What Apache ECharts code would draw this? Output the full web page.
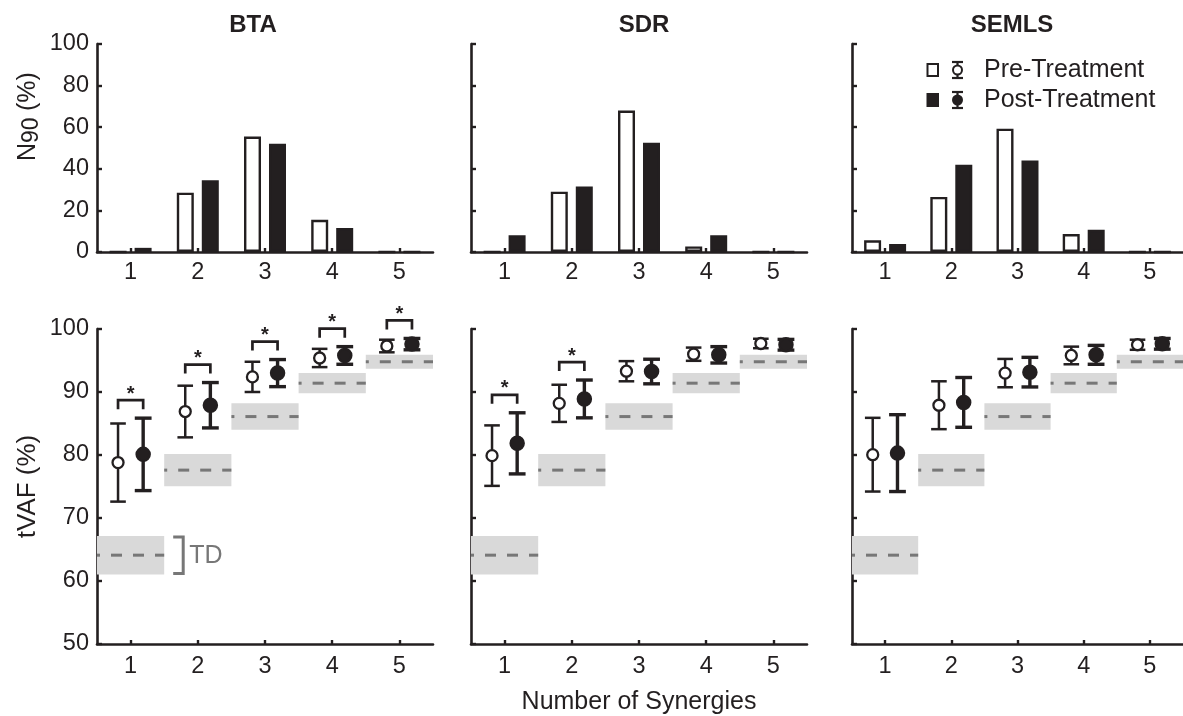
<!DOCTYPE html>
<html>
<head>
<meta charset="utf-8">
<script src="https://cdn.jsdelivr.net/npm/echarts@6/dist/echarts.min.js"></script>
<style>
  html, body { margin: 0; padding: 0; background: #fff; }
  #chart { width: 1183px; height: 716px; }
</style>
</head>
<body>
<div id="chart"></div>
<script>
// Number of synergies on the x axes
const categories = ['1', '2', '3', '4', '5'];
const panelNames = ['BTA', 'SDR', 'SEMLS'];

// N90: share of limbs (%) needing each number of synergies to reach 90% tVAF
const btaN90Pre = [0, 28.5, 55.5, 15.5, 0];
const btaN90Post = [2, 34.5, 52, 11.5, 0];
const sdrN90Pre = [0, 29, 68, 2.7, 0];
const sdrN90Post = [8, 31.5, 52.5, 8, 0];
const semlsN90Pre = [5.6, 26.5, 59.3, 8.6, 0];
const semlsN90Post = [3.8, 42, 44, 10.7, 0];

// tVAF (%) mean and SD for each number of synergies
const btaPreMean = [78.8, 86.9, 92.4, 95.4, 97.3];
const btaPreSd = [6.2, 4.1, 2.4, 1.45, 1.0];
const btaPostMean = [80.1, 87.9, 93.0, 95.8, 97.6];
const btaPostSd = [5.75, 3.6, 2.15, 1.4, 0.9];
const sdrPreMean = [79.9, 88.2, 93.3, 96.0, 97.7];
const sdrPreSd = [4.8, 2.95, 1.6, 1.05, 0.75];
const sdrPostMean = [81.85, 88.9, 93.25, 95.9, 97.5];
const sdrPostSd = [4.85, 3.0, 1.95, 1.3, 0.85];
const semlsPreMean = [80.05, 87.9, 93.0, 95.8, 97.5];
const semlsPreSd = [5.85, 3.8, 2.25, 1.4, 0.8];
const semlsPostMean = [80.3, 88.35, 93.15, 95.9, 97.65];
const semlsPostSd = [6.1, 3.95, 2.35, 1.5, 0.85];

// Typically developing reference band (mean ± SD)
const tdMean = [64.1, 77.6, 86.1, 91.4, 94.8];
const tdSd = [3.05, 2.55, 2.1, 1.6, 1.1];

// Significant pre/post differences (1 = marked with *)
const btaSig = [1, 1, 1, 1, 1];
const sdrSig = [1, 1, 0, 0, 0];
const semlsSig = [0, 0, 0, 0, 0];

const n90PreList = [btaN90Pre, sdrN90Pre, semlsN90Pre];
const n90PostList = [btaN90Post, sdrN90Post, semlsN90Post];
const preMeanList = [btaPreMean, sdrPreMean, semlsPreMean];
const preSdList = [btaPreSd, sdrPreSd, semlsPreSd];
const postMeanList = [btaPostMean, sdrPostMean, semlsPostMean];
const postSdList = [btaPostSd, sdrPostSd, semlsPostSd];
const sigList = [btaSig, sdrSig, semlsSig];

const FONT = "'Liberation Sans', Arial, Helvetica, sans-serif";
const INK = '#231f20';
const GREY = '#777777';
const BAND = '#d9d9d9';
const PANEL_LEFT = [97, 471, 852];
const PANEL_W = 336;
const TITLE_X = [253, 644, 1012];
const PAIR_OFFSET = 0.187; // pre/post horizontal offset, fraction of category width

const chart = echarts.init(document.getElementById('chart'), null, { renderer: 'canvas' });

const grids = [];
const xAxes = [];
const yAxes = [];
const series = [];

function xAxisDef(gridIndex, labelMargin, extra) {
  return Object.assign({
    type: 'category',
    gridIndex: gridIndex,
    data: categories,
    boundaryGap: true,
    axisLine: { show: true, lineStyle: { color: INK, width: 2.6 } },
    axisTick: { show: true, inside: true, alignWithLabel: true, length: 4, lineStyle: { color: INK, width: 2.4 } },
    axisLabel: { color: INK, fontSize: 23.5, fontFamily: FONT, margin: labelMargin },
    splitLine: { show: false }
  }, extra || {});
}

function yAxisDef(gridIndex, min, max, interval, showLabels, extra) {
  return Object.assign({
    type: 'value',
    gridIndex: gridIndex,
    min: min, max: max, interval: interval,
    axisLine: { show: true, lineStyle: { color: INK, width: 2.6 } },
    axisTick: { show: true, inside: true, length: 5, lineStyle: { color: INK, width: 2.4 } },
    axisLabel: { show: showLabels, color: INK, fontSize: 23.5, fontFamily: FONT, margin: 8 },
    splitLine: { show: false }
  }, extra || {});
}

// Shaded TD band with dashed mean line
function bandRenderer(withTag) {
  return function (params, api) {
    const k = api.value(0);
    const m = api.value(1);
    const sd = api.value(2);
    const c = api.coord([k, m]);
    const bw = api.size([1, 0])[0];
    const x0 = c[0] - bw / 2;
    const yTop = api.coord([k, m + sd])[1];
    const yBot = api.coord([k, m - sd])[1];
    const children = [
      { type: 'rect', shape: { x: x0, y: yTop, width: bw, height: yBot - yTop }, style: { fill: BAND } },
      { type: 'line', shape: { x1: x0, y1: c[1], x2: x0 + bw, y2: c[1] },
        style: { stroke: GREY, lineWidth: 3, lineDash: [11, 11], lineDashOffset: 8 } }
    ];
    if (withTag && params.dataIndex === 0) {
      const bx = x0 + bw;
      children.push({
        type: 'polyline',
        shape: { points: [[bx + 9, yTop + 1], [bx + 19, yTop + 1], [bx + 19, yBot - 1], [bx + 9, yBot - 1]] },
        style: { stroke: GREY, lineWidth: 3, fill: null }
      });
      children.push({
        type: 'text',
        style: { text: 'TD', x: bx + 25, y: c[1] + 1, align: 'left', verticalAlign: 'middle',
                 fill: GREY, fontSize: 25, fontFamily: FONT }
      });
    }
    return { type: 'group', children: children };
  };
}

// Mean ± SD error bar with circle marker
function errorBarRenderer(side, filled) {
  return function (params, api) {
    const k = api.value(0);
    const m = api.value(1);
    const sd = api.value(2);
    const c = api.coord([k, m]);
    const bw = api.size([1, 0])[0];
    const x = c[0] + side * bw * PAIR_OFFSET;
    const yTop = api.coord([k, m + sd])[1];
    const yBot = api.coord([k, m - sd])[1];
    const lw = filled ? 3.4 : 2.5;
    const half = filled ? 8.4 : 7.8;
    const st = { stroke: INK, lineWidth: lw };
    return {
      type: 'group',
      children: [
        { type: 'line', shape: { x1: x, y1: yTop, x2: x, y2: yBot }, style: st },
        { type: 'line', shape: { x1: x - half, y1: yTop, x2: x + half, y2: yTop }, style: st },
        { type: 'line', shape: { x1: x - half, y1: yBot, x2: x + half, y2: yBot }, style: st },
        { type: 'circle', shape: { cx: x, cy: c[1], r: filled ? 6.6 : 5.5 },
          style: { fill: filled ? INK : '#ffffff', stroke: INK, lineWidth: 2.3 } }
      ]
    };
  };
}

// Bracket with asterisk above a significant pre/post pair
function sigRenderer(params, api) {
  const k = api.value(0);
  const hiPre = api.value(1);
  const hiPost = api.value(2);
  const bw = api.size([1, 0])[0];
  const cx = api.coord([k, hiPre])[0];
  const yPre = api.coord([k, hiPre])[1];
  const yPost = api.coord([k, hiPost])[1];
  const yB = Math.min(yPre, yPost) - 18;
  const xa = cx - bw * PAIR_OFFSET;
  const xb = cx + bw * PAIR_OFFSET;
  return {
    type: 'group',
    children: [
      { type: 'polyline', shape: { points: [[xa, yB + 9], [xa, yB], [xb, yB], [xb, yB + 9]] },
        style: { stroke: INK, lineWidth: 2.7, fill: null } },
      { type: 'text', style: { text: '*', x: cx, y: yB - 6, align: 'center', verticalAlign: 'middle',
          fill: INK, fontSize: 20, fontFamily: FONT, fontWeight: 'bold' } }
    ]
  };
}

for (let i = 0; i < 3; i++) {
  // top row: N90 bars
  grids.push({ left: PANEL_LEFT[i], top: 44, width: PANEL_W, height: 208 });
  // bottom row: tVAF
  grids.push({ left: PANEL_LEFT[i], top: 329, width: PANEL_W, height: 315 });
}

for (let i = 0; i < 3; i++) {
  const gTop = i * 2;
  const gBot = i * 2 + 1;
  xAxes.push(xAxisDef(gTop, 9));
  xAxes.push(xAxisDef(gBot, 11, i === 1 ? {
    name: 'Number of Synergies', nameLocation: 'middle', nameGap: 46,
    nameTextStyle: { color: INK, fontSize: 25, fontFamily: FONT }
  } : {}));
  yAxes.push(yAxisDef(gTop, 0, 100, 20, i === 0));
  yAxes.push(yAxisDef(gBot, 50, 100, 10, i === 0, i === 0 ? {
    name: 'tVAF (%)', nameLocation: 'middle', nameGap: 56,
    nameTextStyle: { color: INK, fontSize: 26, fontFamily: FONT }
  } : {}));

  series.push({
    name: 'Pre-Treatment', type: 'bar', xAxisIndex: gTop, yAxisIndex: gTop,
    data: n90PreList[i], barWidth: 17, barGap: '47%',
    itemStyle: { color: '#ffffff', borderColor: INK, borderWidth: 2.4 },
    emphasis: { disabled: true }, z: 2
  });
  series.push({
    name: 'Post-Treatment', type: 'bar', xAxisIndex: gTop, yAxisIndex: gTop,
    data: n90PostList[i], barWidth: 17, barGap: '47%',
    itemStyle: { color: INK, borderColor: INK, borderWidth: 2.4 },
    emphasis: { disabled: true }, z: 2
  });

  series.push({
    name: 'TD', type: 'custom', xAxisIndex: gBot, yAxisIndex: gBot,
    renderItem: bandRenderer(i === 0),
    data: tdMean.map((m, k) => [k, m, tdSd[k]]),
    z: 1, silent: true
  });
  series.push({
    name: 'Pre-Treatment', type: 'custom', xAxisIndex: gBot, yAxisIndex: gBot,
    renderItem: errorBarRenderer(-1, false),
    data: preMeanList[i].map((m, k) => [k, m, preSdList[i][k]]),
    z: 3, silent: true
  });
  series.push({
    name: 'Post-Treatment', type: 'custom', xAxisIndex: gBot, yAxisIndex: gBot,
    renderItem: errorBarRenderer(1, true),
    data: postMeanList[i].map((m, k) => [k, m, postSdList[i][k]]),
    z: 3, silent: true
  });
  const sigData = [];
  sigList[i].forEach((flag, k) => {
    if (flag) {
      sigData.push([k, preMeanList[i][k] + preSdList[i][k], postMeanList[i][k] + postSdList[i][k]]);
    }
  });
  series.push({
    name: 'Significance', type: 'custom', xAxisIndex: gBot, yAxisIndex: gBot,
    renderItem: sigRenderer, data: sigData, encode: { x: 0, y: [1, 2] },
    z: 4, silent: true, clip: false
  });
}

// Panel titles, N90 axis label and legend
const graphics = [];
panelNames.forEach((name, i) => {
  graphics.push({
    type: 'text', x: TITLE_X[i], y: 25,
    style: { text: name, align: 'center', verticalAlign: 'middle', fill: INK,
             fontSize: 24, fontWeight: 'bold', fontFamily: FONT }
  });
});
graphics.push({
  type: 'group', x: 28, y: 116, rotation: Math.PI / 2,
  children: [
    { type: 'text', x: -45, y: 0, style: { text: 'N', align: 'left', verticalAlign: 'middle', fill: INK, fontSize: 25, fontFamily: FONT } },
    { type: 'text', x: -27, y: 4, style: { text: '90', align: 'left', verticalAlign: 'middle', fill: INK, fontSize: 23, fontFamily: FONT } },
    { type: 'text', x: 5, y: 0, style: { text: '(%)', align: 'left', verticalAlign: 'middle', fill: INK, fontSize: 25, fontFamily: FONT } }
  ]
});

function legendRow(y, label, filled) {
  const st = { stroke: INK, lineWidth: 2.2 };
  return {
    type: 'group',
    children: [
      { type: 'rect', shape: { x: 927.5, y: y - 6, width: 10.5, height: 12 },
        style: { fill: filled ? INK : '#ffffff', stroke: INK, lineWidth: 2 } },
      { type: 'line', shape: { x1: 957.5, y1: y - 8, x2: 957.5, y2: y + 8 }, style: st },
      { type: 'line', shape: { x1: 952, y1: y - 8, x2: 963, y2: y - 8 }, style: st },
      { type: 'line', shape: { x1: 952, y1: y + 8, x2: 963, y2: y + 8 }, style: st },
      { type: 'circle', shape: { cx: 957.5, cy: y, r: 4.5 }, style: { fill: filled ? INK : '#ffffff', stroke: INK, lineWidth: 2 } },
      { type: 'text', x: 984, y: y, style: { text: label, align: 'left', verticalAlign: 'middle',
          fill: INK, fontSize: 25, fontFamily: FONT } }
    ]
  };
}
graphics.push(legendRow(70, 'Pre-Treatment', false));
graphics.push(legendRow(100, 'Post-Treatment', true));

chart.setOption({
  animation: false,
  backgroundColor: '#ffffff',
  textStyle: { fontFamily: FONT },
  grid: grids,
  xAxis: xAxes,
  yAxis: yAxes,
  series: series,
  graphic: graphics
});
</script>
</body>
</html>
